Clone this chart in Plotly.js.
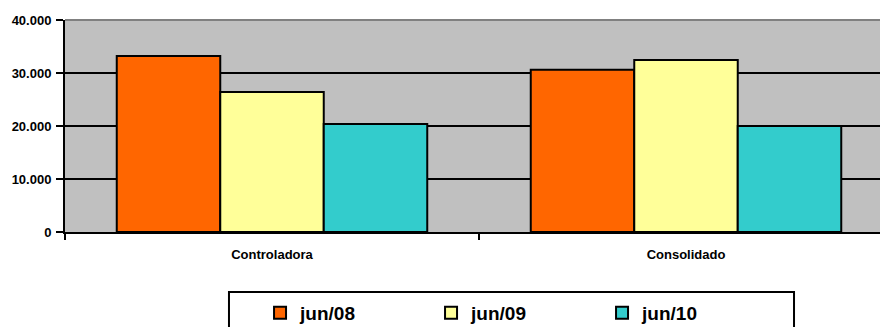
<!DOCTYPE html>
<html>
<head>
<meta charset="utf-8">
<script src="https://cdn.plot.ly/plotly-3.0.1.min.js"></script>
<style>html,body{margin:0;padding:0;background:#fff;}#chart{width:880px;height:327px;}</style>
</head>
<body>
<div id="chart"></div>
<script>
const categories = ["Controladora", "Consolidado"];
const seriesNames = ["jun/08", "jun/09", "jun/10"];
const jun08 = [33200, 30600];
const jun09 = [26400, 32450];
const jun10 = [20400, 20000];
const seriesColors = ["#FF6600", "#FFFF99", "#33CCCC"];
const yTicks = [0, 10000, 20000, 30000, 40000];

const values = [jun08, jun09, jun10];
const traces = values.map((v, i) => ({
  type: "bar",
  x: categories,
  y: v,
  name: seriesNames[i],
  marker: {color: seriesColors[i], line: {color: "#000", width: 2}},
  hoverinfo: "none"
}));

const font = {family: "Liberation Sans, Arial, sans-serif", color: "#000", weight: "bold"};

const layout = {
  width: 880, height: 327,
  margin: {l: 65, r: 0, t: 20, b: 95, pad: 0},
  paper_bgcolor: "#fff",
  plot_bgcolor: "#C0C0C0",
  barmode: "group",
  bargap: 0.25,
  bargroupgap: 0,
  separators: ",.",
  showlegend: true,
  font: font,
  xaxis: {
    type: "category",
    range: [-0.5, 1.4686],
    tickson: "boundaries",
    ticks: "outside", ticklen: 6, tickwidth: 2, tickcolor: "#000",
    showline: true, linecolor: "#000", linewidth: 2,
    showgrid: false, zeroline: false,
    tickfont: Object.assign({}, font, {size: 13}),
    ticklabelstandoff: 9,
    automargin: false,
    fixedrange: true
  },
  yaxis: {
    range: [0, 40000],
    tickvals: yTicks,
    tickformat: ",d",
    ticks: "outside", ticklen: 7, tickwidth: 2, tickcolor: "#000",
    showline: true, linecolor: "#000", linewidth: 2,
    showgrid: true, gridcolor: "#000", gridwidth: 2,
    zeroline: false,
    tickfont: Object.assign({}, font, {size: 13}),
    ticklabelstandoff: 2,
    automargin: false,
    fixedrange: true
  },
  legend: {
    orientation: "h",
    xref: "container", yref: "container",
    x: 0.2955, xanchor: "left",
    y: 0.1009, yanchor: "top",
    bgcolor: "rgba(0,0,0,0)",
    borderwidth: 0,
    entrywidth: 126, entrywidthmode: "pixels",
    traceorder: "normal",
    font: Object.assign({}, font, {size: 19})
  },
  shapes: [
    {type: "line", xref: "paper", yref: "paper", x0: 0, x1: 1.01, y0: 1, y1: 1,
     line: {color: "#808080", width: 2}},
    {type: "rect", xref: "paper", yref: "paper", x0: 0.2012, x1: 0.8945, y0: -0.283, y1: -0.6,
     line: {color: "#000", width: 2}, fillcolor: "rgba(0,0,0,0)"}
  ]
};

Plotly.newPlot("chart", traces, layout, {displayModeBar: false, staticPlot: true});
</script>
</body>
</html>
